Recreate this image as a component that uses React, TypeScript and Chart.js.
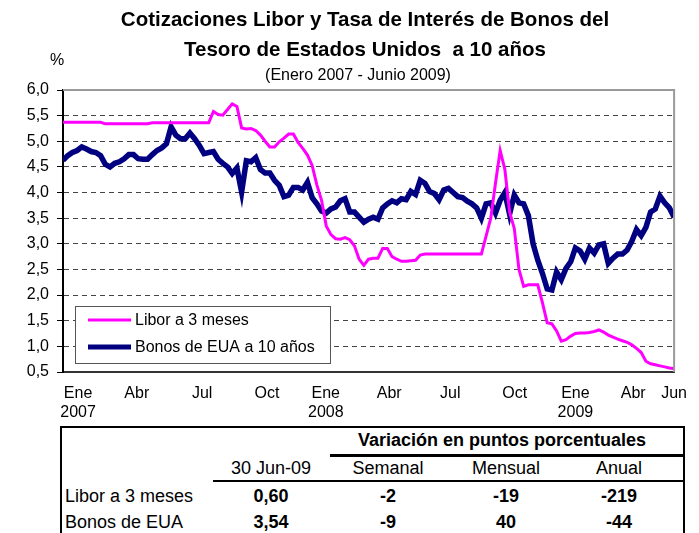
import React, { useEffect, useRef } from 'react';
import { Chart, registerables } from 'chart.js';

Chart.register(...registerables);

const FONT = '"Liberation Sans", Arial, Helvetica, sans-serif';

const title1 = 'Cotizaciones Libor y Tasa de Interés de Bonos del';
const title2 = 'Tesoro de Estados Unidos  a 10 años';
const subtitle = '(Enero 2007 - Junio 2009)';
const yUnit = '%';

const seriesNames = ['Libor a 3 meses', 'Bonos de EUA a 10 años'];
const seriesColors = ['#FF00FF', '#000080'];

// weekly observations, week 0 = first week of January 2007 ... week 130 = end of June 2009
const libor = [
  5.37, 5.37, 5.37, 5.37, 5.37, 5.37, 5.37, 5.37, 5.37, 5.34,
  5.34, 5.34, 5.34, 5.34, 5.34, 5.34, 5.34, 5.34, 5.34, 5.36,
  5.36, 5.36, 5.36, 5.36, 5.36, 5.36, 5.36, 5.36, 5.36, 5.36,
  5.36, 5.36, 5.58, 5.52, 5.51, 5.62, 5.73, 5.68, 5.26, 5.24,
  5.25, 5.21, 5.12, 5.00, 4.89, 4.89, 4.99, 5.06, 5.14, 5.14,
  4.98, 4.86, 4.73, 4.53, 4.15, 3.85, 3.35, 3.18, 3.10, 3.09,
  3.12, 3.08, 2.96, 2.70, 2.58, 2.70, 2.72, 2.72, 2.91, 2.91,
  2.75, 2.70, 2.66, 2.66, 2.67, 2.68, 2.78, 2.80, 2.80, 2.80,
  2.80, 2.80, 2.80, 2.80, 2.80, 2.80, 2.80, 2.80, 2.80, 2.80,
  3.15, 3.50, 4.18, 4.82, 4.45, 3.62, 3.30, 2.50, 2.17, 2.20,
  2.20, 2.20, 1.85, 1.46, 1.44, 1.30, 1.10, 1.13, 1.20, 1.25,
  1.26, 1.26, 1.27, 1.29, 1.32, 1.28, 1.22, 1.18, 1.14, 1.11,
  1.08, 1.03, 0.96, 0.88, 0.71, 0.66, 0.64, 0.62, 0.60, 0.58,
  0.57,
];

const bonos = [
  4.63, 4.72, 4.78, 4.82, 4.89, 4.85, 4.80, 4.78, 4.72, 4.55,
  4.50, 4.57, 4.60, 4.66, 4.74, 4.74, 4.66, 4.65, 4.65, 4.74,
  4.82, 4.87, 4.95, 5.28, 5.12, 5.05, 5.05, 5.16, 5.05, 4.92,
  4.76, 4.78, 4.80, 4.65, 4.57, 4.50, 4.37, 4.48, 4.01, 4.62,
  4.60, 4.68, 4.45, 4.38, 4.38, 4.24, 4.14, 3.92, 3.95, 4.10,
  4.10, 4.05, 4.20, 3.90, 3.78, 3.64, 3.60, 3.68, 3.72, 3.84,
  3.88, 3.62, 3.62, 3.52, 3.42, 3.48, 3.52, 3.48, 3.70, 3.78,
  3.84, 3.80, 3.88, 3.86, 4.02, 3.96, 4.24, 4.18, 4.02, 3.98,
  3.86, 4.05, 4.08, 4.00, 3.92, 3.90, 3.83, 3.78, 3.70, 3.50,
  3.78, 3.80, 3.60, 3.85, 4.00, 3.58, 3.95, 3.80, 3.78, 3.55,
  3.00, 2.68, 2.42, 2.12, 2.10, 2.45, 2.30, 2.52, 2.65, 2.92,
  2.86, 2.70, 2.92, 2.82, 2.98, 3.00, 2.62, 2.72, 2.80, 2.80,
  2.88, 3.05, 3.28, 3.16, 3.32, 3.62, 3.68, 3.93, 3.80, 3.70,
  3.52,
];

// axis labels (position in weeks)
const tickWeeks = [3.2, 15.7, 29.6, 43.4, 55.9, 69.4, 82.4, 96.1, 109.0, 121.3, 130];
const tickMonths = ['Ene', 'Abr', 'Jul', 'Oct', 'Ene', 'Abr', 'Jul', 'Oct', 'Ene', 'Abr', 'Jun'];
const tickYears = ['2007', '', '', '', '2008', '', '', '', '2009', '', ''];

const yMin = 0.5;
const yMax = 6.0;
const yStep = 0.5;

const tableHeader = 'Variación en puntos porcentuales';
const tableCols = ['30 Jun-09', 'Semanal', 'Mensual', 'Anual'];
const tableRowNames = ['Libor a 3 meses', 'Bonos de EUA'];
const tableLibor = ['0,60', '-2', '-19', '-219'];
const tableBonos = ['3,54', '-9', '40', '-44'];

const frameLegendPlugin = {
  id: 'frameLegend',
  afterDatasetsDraw(chart: any) {
    const { ctx, chartArea: a } = chart;
    ctx.save();
    ctx.strokeStyle = '#9a9a9a';
    ctx.lineWidth = 2;
    ctx.setLineDash([]);
    ctx.beginPath();
    ctx.moveTo(a.left, a.top);
    ctx.lineTo(a.right, a.top);
    ctx.lineTo(a.right, a.bottom);
    ctx.stroke();

    // legend box
    const bx = 75, by = 306, bw = 255, bh = 57;
    ctx.fillStyle = '#ffffff';
    ctx.fillRect(bx, by, bw, bh);
    ctx.strokeStyle = '#555';
    ctx.lineWidth = 1;
    ctx.strokeRect(bx + 0.5, by + 0.5, bw, bh);
    const ds = chart.data.datasets;
    const rowsY = [320, 347];
    ds.forEach((d: any, i: number) => {
      const y = rowsY[i];
      ctx.strokeStyle = d.borderColor;
      ctx.lineWidth = i === 0 ? 3 : 5;
      ctx.beginPath();
      ctx.moveTo(88, y);
      ctx.lineTo(131, y);
      ctx.stroke();
      ctx.fillStyle = '#000';
      ctx.font = `16px ${FONT}`;
      ctx.textBaseline = 'middle';
      ctx.textAlign = 'left';
      ctx.fillText(d.label, 135, y + 1);
    });
    ctx.restore();
  },
};

function ChartCanvas() {
  const ref = useRef<HTMLCanvasElement | null>(null);
  useEffect(() => {
    if (!ref.current) return;
    const chart = new Chart(ref.current, {
      type: 'line',
      data: {
        datasets: [
          {
            label: seriesNames[0],
            data: libor.map((v, i) => ({ x: i, y: v })),
            borderColor: seriesColors[0],
            backgroundColor: seriesColors[0],
            borderWidth: 3,
            pointRadius: 0,
            tension: 0,
          },
          {
            label: seriesNames[1],
            data: bonos.map((v, i) => ({ x: i, y: v })),
            borderColor: seriesColors[1],
            backgroundColor: seriesColors[1],
            borderWidth: 5.5,
            pointRadius: 0,
            tension: 0,
          },
        ],
      },
      options: {
        responsive: false,
        animation: false,
        devicePixelRatio: 1,
        layout: { padding: { left: 0, right: 22, top: 90, bottom: 3 } },
        plugins: {
          legend: { display: false },
          title: { display: false },
          tooltip: { enabled: false },
        },
        scales: {
          x: {
            type: 'linear',
            min: 0,
            max: 130,
            grid: { display: false, drawTicks: false },
            border: { display: true, color: '#333', width: 2 },
            afterBuildTicks: (scale: any) => {
              scale.ticks = tickWeeks.map((v) => ({ value: v }));
            },
            afterFit: (scale: any) => {
              scale.height = 50;
            },
            ticks: {
              autoSkip: false,
              maxRotation: 0,
              padding: 12,
              color: '#000',
              font: { family: FONT, size: 16, lineHeight: 1.2 },
              callback: (_v: any, i: number) => [tickMonths[i], tickYears[i]],
            },
          },
          y: {
            min: yMin,
            max: yMax,
            afterFit: (scale: any) => {
              scale.width = 63;
            },
            ticks: {
              stepSize: yStep,
              padding: 8,
              color: '#000',
              font: { family: FONT, size: 16 },
              callback: (v: any) => Number(v).toFixed(1).replace('.', ','),
            },
            grid: {
              color: (c: any) =>
                c.tick && (Math.abs(c.tick.value - yMax) < 1e-6 || Math.abs(c.tick.value - yMin) < 1e-6)
                  ? 'rgba(0,0,0,0)'
                  : '#444',
              lineWidth: 1,
              tickLength: 6,
              tickColor: '#000',
              tickWidth: 1,
            },
            border: { display: true, color: '#000', width: 2, dash: [5, 4] },
          },
        },
      },
      plugins: [frameLegendPlugin],
    } as any);
    return () => chart.destroy();
  }, []);
  return (
    <canvas
      ref={ref}
      width={699}
      height={425}
      style={{ position: 'absolute', left: 0, top: 0, width: 699, height: 425 }}
    />
  );
}

const abs = (x: number, y: number, extra: React.CSSProperties = {}): React.CSSProperties => ({
  position: 'absolute',
  left: x,
  top: y,
  transform: 'translate(-50%, -50%)',
  whiteSpace: 'pre',
  ...extra,
});

export default function App() {
  useEffect(() => {
    document.body.style.margin = '0';
  }, []);
  const colX = [271, 388, 506, 619];
  const textStyle: React.CSSProperties = { fontFamily: FONT, fontSize: 18, color: '#000', lineHeight: '20px' };
  return (
    <div style={{ position: 'relative', width: 699, height: 533, overflow: 'hidden', background: '#fff', fontFamily: FONT }}>
      <ChartCanvas />
      <div style={abs(365, 19, { fontSize: 20.5, fontWeight: 'bold', lineHeight: '24px' })}>{title1}</div>
      <div style={abs(365, 49, { fontSize: 20.5, fontWeight: 'bold', lineHeight: '24px' })}>{title2}</div>
      <div style={abs(358, 75, { fontSize: 16, lineHeight: '20px' })}>{subtitle}</div>
      <div style={abs(57, 60, { fontSize: 16, lineHeight: '20px' })}>{yUnit}</div>

      <div
        style={{
          position: 'absolute',
          left: 60,
          top: 426,
          width: 621,
          height: 140,
          border: '2px solid #000',
        }}
      />
      <div style={abs(502, 440, { ...textStyle, fontWeight: 'bold' })}>{tableHeader}</div>
      <div style={{ position: 'absolute', left: 330, top: 454, width: 353, height: 3, background: '#000' }} />
      {tableCols.map((c, i) => (
        <div key={c} style={abs(colX[i], 468, textStyle)}>{c}</div>
      ))}
      <div style={{ position: 'absolute', left: 213, top: 480, width: 470, height: 2, background: '#000' }} />
      <div style={{ ...abs(65, 496, textStyle), transform: 'translate(0, -50%)' }}>{tableRowNames[0]}</div>
      {tableLibor.map((c, i) => (
        <div key={'l' + i} style={abs(colX[i], 496, { ...textStyle, fontWeight: 'bold' })}>{c}</div>
      ))}
      <div style={{ ...abs(65, 522, textStyle), transform: 'translate(0, -50%)' }}>{tableRowNames[1]}</div>
      {tableBonos.map((c, i) => (
        <div key={'b' + i} style={abs(colX[i], 522, { ...textStyle, fontWeight: 'bold' })}>{c}</div>
      ))}
    </div>
  );
}
